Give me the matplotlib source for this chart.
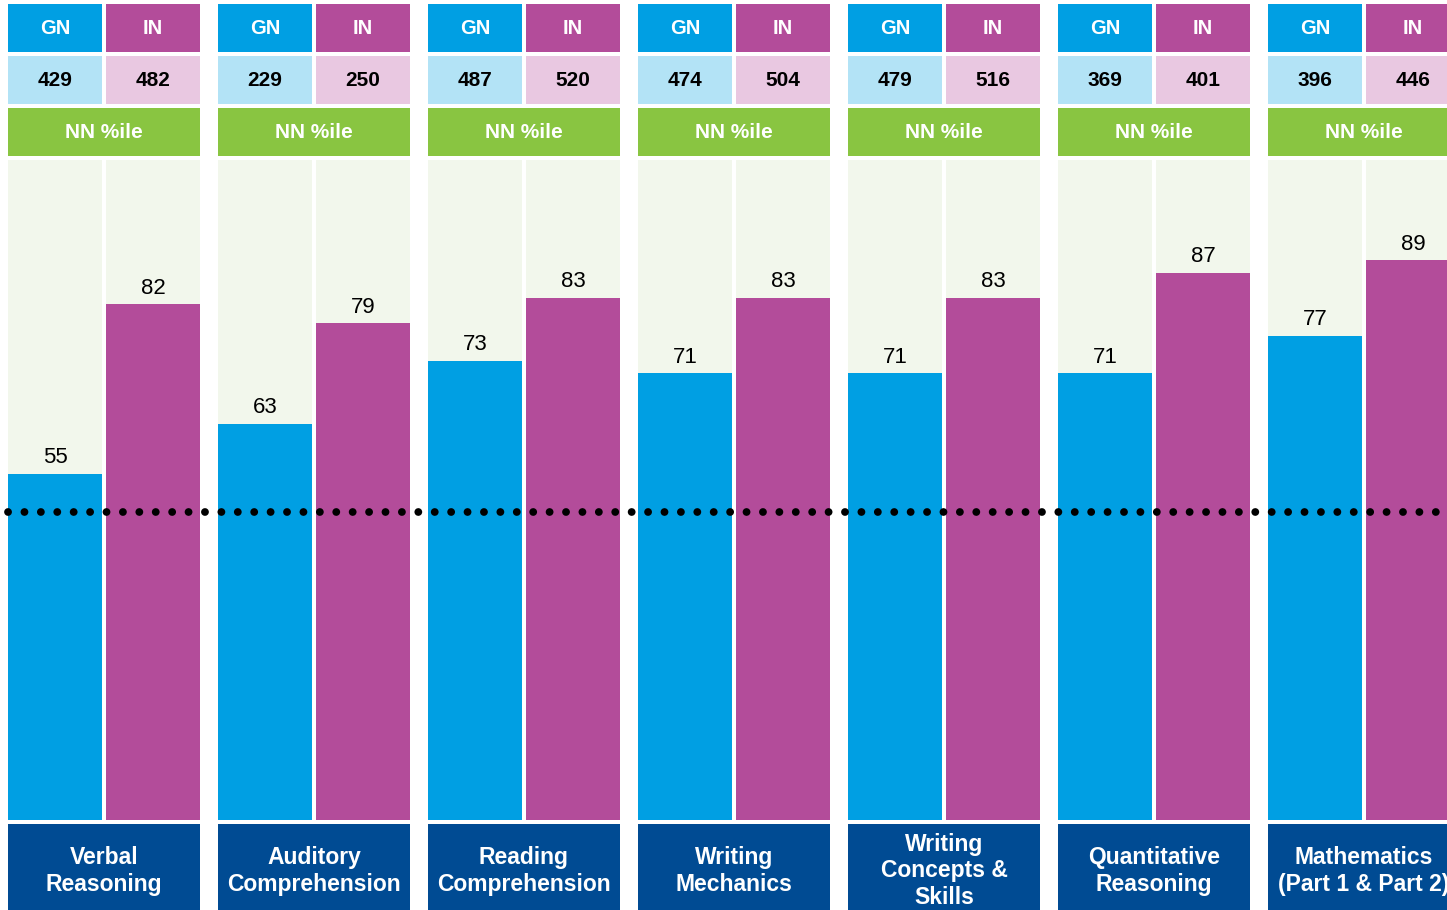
import matplotlib
matplotlib.use("Agg")
import matplotlib.pyplot as plt
from matplotlib.patches import Rectangle

plt.rcParams['font.family'] = ['Liberation Sans', 'DejaVu Sans']

# data
subjects = ["Verbal\nReasoning", "Auditory\nComprehension", "Reading\nComprehension",
            "Writing\nMechanics", "Writing\nConcepts &\nSkills",
            "Quantitative\nReasoning", "Mathematics\n(Part 1 & Part 2)"]
series = ["GN", "IN"]
gn_scores = [429, 229, 487, 474, 479, 369, 396]
in_scores = [482, 250, 520, 504, 516, 401, 446]
gn_pct = [55, 63, 73, 71, 71, 71, 77]
in_pct = [82, 79, 83, 83, 83, 87, 89]
ref_line = 49
row_label = "NN %ile"

# colours
BLUE = "#009FE3"
MAGENTA = "#B34C9A"
LIGHT_BLUE = "#B3E3F6"
LIGHT_PINK = "#E9C8E1"
GREEN = "#89C541"
NAVY = "#004B93"
PALE = "#F2F7EC"

# layout in pixels
W, H = 1447, 910
PITCH = 210
LEFT = 8
COL_W = 94
GAP = 4
PX_PER_UNIT = 6.29
CHART_TOP, CHART_BOT = 160, 820

fig = plt.figure(figsize=(W / 100, H / 100), dpi=100)

# overlay axes in pixel coords for the table cells
tab = fig.add_axes([0, 0, 1, 1])
tab.set_xlim(0, W)
tab.set_ylim(H, 0)
tab.axis("off")

for i, subj in enumerate(subjects):
    x0 = LEFT + i * PITCH
    x1 = x0 + COL_W + GAP
    cols = [(x0, BLUE, LIGHT_BLUE, gn_scores[i]), (x1, MAGENTA, LIGHT_PINK, in_scores[i])]
    for (cx, dark, light, score), name in zip(cols, series):
        tab.add_patch(Rectangle((cx, 4), COL_W, 48, color=dark, lw=0))
        tab.text(cx + COL_W / 2, 29, name, color="white", fontsize=14.5, fontweight="bold",
                 ha="center", va="center")
        tab.add_patch(Rectangle((cx, 56), COL_W, 48, color=light, lw=0))
        tab.text(cx + COL_W / 2, 81, str(score), color="black", fontsize=15, fontweight="bold",
                 ha="center", va="center")
    full_w = 2 * COL_W + GAP
    tab.add_patch(Rectangle((x0, 108), full_w, 48, color=GREEN, lw=0))
    tab.text(x0 + full_w / 2, 133, row_label, color="white", fontsize=15, fontweight="bold",
             ha="center", va="center")
    tab.add_patch(Rectangle((x0, 824), full_w, 90, color=NAVY, lw=0))
    tab.text(x0 + full_w / 2, 871, subj, color="white", fontsize=16.5, fontweight="bold",
             ha="center", va="center", linespacing=1.2)

# chart axes for the bars
ax = fig.add_axes([0, (H - CHART_BOT) / H, 1, (CHART_BOT - CHART_TOP) / H])
ymax = (CHART_BOT - CHART_TOP) / PX_PER_UNIT
ax.set_xlim(0, W)
ax.set_ylim(0, ymax)
ax.axis("off")

idx = range(len(subjects))
gn_x = [LEFT + i * PITCH + COL_W / 2 for i in idx]
in_x = [LEFT + i * PITCH + COL_W + GAP + COL_W / 2 for i in idx]

ax.bar(gn_x, [ymax] * len(gn_x), width=COL_W, color=PALE, lw=0, zorder=1)
ax.bar(in_x, [ymax] * len(in_x), width=COL_W, color=PALE, lw=0, zorder=1)
b1 = ax.bar(gn_x, gn_pct, width=COL_W, color=BLUE, lw=0, zorder=2)
b2 = ax.bar(in_x, in_pct, width=COL_W, color=MAGENTA, lw=0, zorder=2)

for bars in (b1, b2):
    for b in bars:
        ax.annotate(str(int(b.get_height())), (b.get_x() + b.get_width() / 2, b.get_height()),
                    xytext=(0, 4), textcoords="offset points", ha="center", va="bottom",
                    fontsize=16, color="black", zorder=3)

ax.plot([LEFT, W], [ref_line, ref_line], color="black", lw=5.6,
        linestyle=(0, (0.01, 2.1)), dash_capstyle="round", zorder=4)

fig.savefig("out.png", dpi=100)
